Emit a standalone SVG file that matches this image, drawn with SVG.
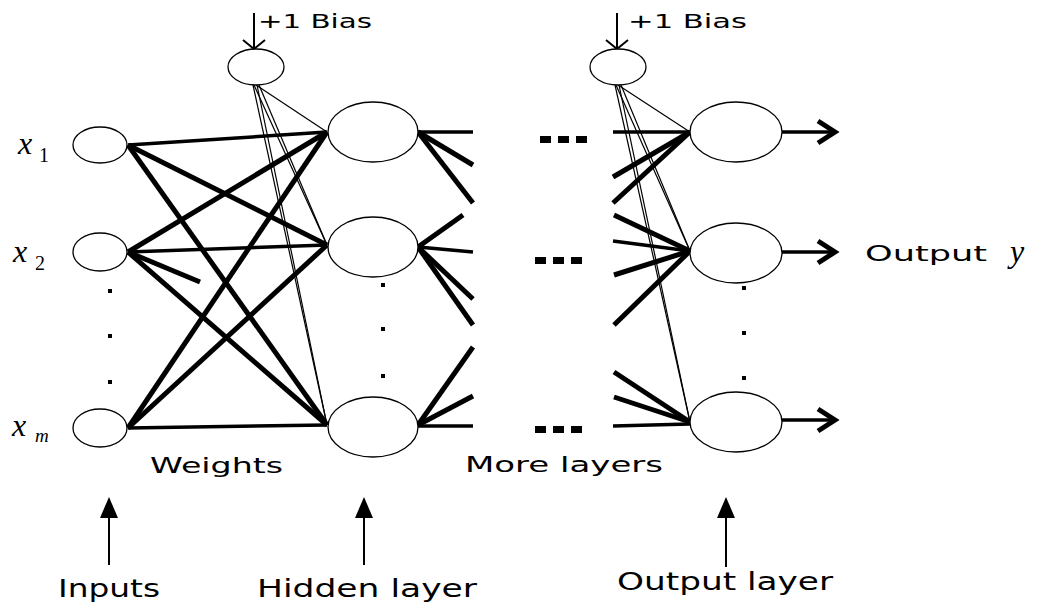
<svg xmlns="http://www.w3.org/2000/svg" width="1048" height="605" viewBox="0 0 1048 605">
<style>
.lbl{font-family:"DejaVu Sans","Liberation Sans",sans-serif;fill:#000}
.math{font-family:"Liberation Serif","DejaVu Serif",serif;font-style:italic;fill:#000}
.sub{font-family:"Liberation Serif","DejaVu Serif",serif;fill:#000}
.node{fill:#fff;stroke:#000;stroke-width:1.3}
.w{stroke:#000;stroke-width:5;stroke-linecap:butt;fill:none}
.wh{stroke:#000;stroke-width:3.5;fill:none}
.thin{stroke:#000;stroke-width:1.2;fill:none}
.arr{stroke:#000;stroke-width:2;fill:none}
.dot{fill:#000}
</style>
<rect width="1048" height="605" fill="#fff"/>
<g id="connectors">
  <line class="wh" x1="128" y1="145" x2="327" y2="132"/>
  <line class="w" x1="128" y1="145" x2="327" y2="245"/>
  <line class="w" x1="128" y1="145" x2="327" y2="425"/>
  <line class="w" x1="128" y1="252" x2="327" y2="132"/>
  <line class="wh" x1="128" y1="252" x2="327" y2="245"/>
  <line class="w" x1="128" y1="252" x2="327" y2="425"/>
  <line class="w" x1="128" y1="252" x2="200" y2="282"/>
  <line class="w" x1="128" y1="428" x2="327" y2="132"/>
  <line class="w" x1="128" y1="428" x2="327" y2="245"/>
  <line class="wh" x1="128" y1="428" x2="327" y2="425"/>
  <line class="thin" x1="256" y1="85" x2="327" y2="132"/>
  <line class="thin" x1="254" y1="85" x2="327" y2="245"/>
  <line class="thin" x1="259" y1="85" x2="327" y2="245"/>
  <line class="thin" x1="253" y1="85" x2="327" y2="425"/>
  <line class="thin" x1="257" y1="85" x2="327" y2="425"/>
  <line class="arr" x1="254" y1="13" x2="254" y2="49"/>
  <polyline class="arr" points="243,40 254,49 265,40"/>
  <line class="wh" x1="418" y1="132" x2="473" y2="132"/>
  <line class="w" x1="418" y1="132" x2="473" y2="165"/>
  <line class="w" x1="418" y1="132" x2="473" y2="203"/>
  <line class="w" x1="418" y1="247" x2="463" y2="215"/>
  <line class="wh" x1="418" y1="247" x2="473" y2="252"/>
  <line class="w" x1="418" y1="247" x2="473" y2="299"/>
  <line class="w" x1="418" y1="247" x2="473" y2="325"/>
  <line class="w" x1="418" y1="425" x2="473" y2="347"/>
  <line class="w" x1="418" y1="425" x2="473" y2="396"/>
  <line class="wh" x1="418" y1="426" x2="473" y2="426"/>
  <line class="wh" x1="613" y1="132" x2="690" y2="132"/>
  <line class="w" x1="613" y1="177" x2="690" y2="132"/>
  <line class="w" x1="613" y1="203" x2="690" y2="132"/>
  <line class="w" x1="614" y1="215" x2="690" y2="251"/>
  <line class="wh" x1="613" y1="241" x2="690" y2="251"/>
  <line class="w" x1="614" y1="275" x2="690" y2="251"/>
  <line class="w" x1="614" y1="325" x2="690" y2="251"/>
  <line class="w" x1="614" y1="372" x2="690" y2="422"/>
  <line class="w" x1="614" y1="397" x2="690" y2="422"/>
  <line class="wh" x1="613" y1="426" x2="690" y2="424"/>
  <line class="thin" x1="618" y1="85" x2="690" y2="132"/>
  <line class="thin" x1="616" y1="85" x2="690" y2="251"/>
  <line class="thin" x1="621" y1="85" x2="690" y2="251"/>
  <line class="thin" x1="615" y1="85" x2="690" y2="422"/>
  <line class="thin" x1="619" y1="85" x2="690" y2="422"/>
  <line class="arr" x1="617" y1="13" x2="617" y2="49"/>
  <polyline class="arr" points="606,40 617,49 628,40"/>
  <line class="wh" x1="782" y1="132" x2="834" y2="132"/>
  <polyline class="w" points="818,121 835,132 818,143"/>
  <line class="wh" x1="782" y1="252" x2="834" y2="252"/>
  <polyline class="w" points="818,241 835,252 818,263"/>
  <line class="wh" x1="782" y1="420" x2="834" y2="420"/>
  <polyline class="w" points="818,409 835,420 818,431"/>
  <line class="arr" x1="109" y1="515" x2="109" y2="565"/>
  <polygon points="109,497 100,518 118,518" fill="#000"/>
  <line class="arr" x1="364" y1="515" x2="364" y2="565"/>
  <polygon points="364,497 355,518 373,518" fill="#000"/>
  <line class="arr" x1="726" y1="515" x2="726" y2="567"/>
  <polygon points="726,497 717,518 735,518" fill="#000"/>
</g>
<g id="input-x1"><ellipse class="node" cx="100" cy="145" rx="27" ry="18"/>
  <text class="math" x="18" y="154" font-size="32">x</text><text class="sub" x="39" y="162" font-size="20">1</text></g>
<g id="input-x2"><ellipse class="node" cx="100" cy="252" rx="27" ry="19"/>
  <text class="math" x="13" y="262" font-size="32">x</text><text class="sub" x="35" y="270" font-size="20">2</text></g>
<g id="input-xm"><ellipse class="node" cx="100" cy="428" rx="27" ry="19"/>
  <text class="math" x="12" y="436" font-size="32">x</text><text class="math" x="35" y="442" font-size="19">m</text></g>
<g id="input-dots"><rect class="dot" x="108" y="289" width="4" height="4"/><rect class="dot" x="108" y="334" width="4" height="4"/><rect class="dot" x="108" y="380" width="4" height="4"/></g>
<g id="bias1"><ellipse class="node" cx="256" cy="67" rx="28" ry="18"/>
  <text class="lbl" x="258" y="28" font-size="20" textLength="114" lengthAdjust="spacingAndGlyphs">+1 Bias</text></g>
<g id="hidden1"><ellipse class="node" cx="373" cy="132" rx="45" ry="30"/></g>
<g id="hidden2"><ellipse class="node" cx="373" cy="247" rx="45" ry="30"/></g>
<g id="hidden3"><ellipse class="node" cx="373" cy="427" rx="45" ry="30"/></g>
<g id="hidden-dots"><rect class="dot" x="381" y="283" width="4" height="4"/><rect class="dot" x="381" y="327" width="4" height="4"/><rect class="dot" x="381" y="374" width="4" height="4"/></g>
<g id="more-dots">
  <rect class="dot" x="540" y="136" width="11" height="7"/><rect class="dot" x="558" y="136" width="11" height="7"/><rect class="dot" x="576" y="136" width="11" height="7"/>
  <rect class="dot" x="535" y="257" width="11" height="7"/><rect class="dot" x="553" y="257" width="11" height="7"/><rect class="dot" x="571" y="257" width="11" height="7"/>
  <rect class="dot" x="535" y="426" width="11" height="7"/><rect class="dot" x="553" y="426" width="11" height="7"/><rect class="dot" x="571" y="426" width="11" height="7"/>
</g>
<g id="bias2"><ellipse class="node" cx="618" cy="67" rx="28" ry="18"/>
  <text class="lbl" x="628" y="28" font-size="20" textLength="119" lengthAdjust="spacingAndGlyphs">+1 Bias</text></g>
<g id="output1"><ellipse class="node" cx="736" cy="132" rx="46" ry="30"/></g>
<g id="output2"><ellipse class="node" cx="736" cy="253" rx="46" ry="30"/></g>
<g id="output3"><ellipse class="node" cx="736" cy="422" rx="46" ry="30"/></g>
<g id="output-dots"><rect class="dot" x="742" y="286" width="4" height="4"/><rect class="dot" x="742" y="331" width="4" height="4"/><rect class="dot" x="742" y="376" width="4" height="4"/></g>
<g id="labels">
  <text class="lbl" x="865" y="261" font-size="22" textLength="122" lengthAdjust="spacingAndGlyphs">Output</text>
  <text class="math" x="1010" y="262" font-size="32">y</text>
  <text class="lbl" x="150" y="473" font-size="22" textLength="133" lengthAdjust="spacingAndGlyphs">Weights</text>
  <text class="lbl" x="465" y="472" font-size="22" textLength="198" lengthAdjust="spacingAndGlyphs">More layers</text>
  <text class="lbl" x="58" y="597" font-size="24" textLength="102" lengthAdjust="spacingAndGlyphs">Inputs</text>
  <text class="lbl" x="257" y="597" font-size="24" textLength="220" lengthAdjust="spacingAndGlyphs">Hidden layer</text>
  <text class="lbl" x="617" y="590" font-size="24" textLength="216" lengthAdjust="spacingAndGlyphs">Output layer</text>
</g>
</svg>
